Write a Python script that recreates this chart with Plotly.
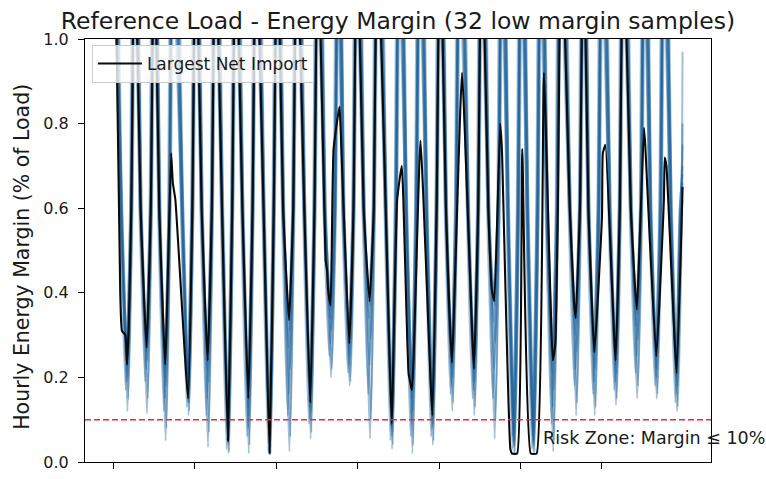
import plotly.graph_objects as go

# Hour index (0 = first midnight) of each day's lowest-margin hour
dip_hours = [16, 39, 61, 88, 111, 135, 159, 184, 207, 232, 256, 278, 302, 328,
             352, 376, 399, 425, 449, 472, 495, 518, 545, 567, 592, 617, 640, 664]
# Hours at which the sample band falls through / climbs back over 60 % margin
band_down_hours = [9, 32, 54, 81, 104, 128, 152, 177, 200, 225, 249, 271, 295, 321,
                   345, 369, 392, 418, 442, 465, 488, 511, 538, 560, 585, 610, 633, 657]
band_up_hours = [21, 44, 66, 93, 116, 140, 164, 189, 212, 237, 261, 283, 307, 333,
                 357, 381, 404, 430, 454, 477, 500, 523, 550, 572, 597, 622, 645, 669]
band_level = 0.6
# Overnight high-margin hours between consecutive dips
peak_hours = [25, 48, 70, 97, 120, 144, 168, 193, 216, 241, 265, 287, 311, 337,
              361, 385, 408, 434, 458, 481, 504, 527, 554, 576, 601, 626, 649]

# Daily minimum margin of each low-margin sample (fraction of load)
sample_dips = [
    [0.25, 0.29, 0.24, 0.17, 0.26, 0.07, 0.17, 0.06, 0.34, 0.16, 0.38, 0.30, 0.40, 0.11,
     0.19, 0.13, 0.25, 0.24, 0.40, 0.06, 0.06, 0.26, 0.35, 0.28, 0.26, 0.37, 0.27, 0.23],
    [0.23, 0.27, 0.22, 0.16, 0.24, 0.06, 0.15, 0.05, 0.31, 0.14, 0.36, 0.28, 0.37, 0.09,
     0.17, 0.11, 0.23, 0.22, 0.37, 0.05, 0.05, 0.24, 0.33, 0.26, 0.24, 0.35, 0.25, 0.21],
    [0.22, 0.26, 0.20, 0.15, 0.22, 0.05, 0.13, 0.04, 0.27, 0.13, 0.34, 0.27, 0.34, 0.08,
     0.15, 0.10, 0.22, 0.21, 0.33, 0.045, 0.045, 0.21, 0.30, 0.24, 0.23, 0.32, 0.24, 0.20],
    [0.20, 0.24, 0.18, 0.14, 0.19, 0.05, 0.11, 0.035, 0.22, 0.12, 0.31, 0.25, 0.29, 0.07,
     0.12, 0.09, 0.20, 0.19, 0.28, 0.04, 0.04, 0.17, 0.26, 0.22, 0.21, 0.29, 0.22, 0.18],
    [0.19, 0.22, 0.15, 0.14, 0.15, 0.04, 0.08, 0.03, 0.16, 0.10, 0.28, 0.23, 0.23, 0.06,
     0.09, 0.08, 0.18, 0.17, 0.22, 0.035, 0.035, 0.13, 0.22, 0.19, 0.19, 0.25, 0.20, 0.16],
    [0.17, 0.19, 0.12, 0.13, 0.11, 0.03, 0.06, 0.025, 0.11, 0.09, 0.25, 0.21, 0.16, 0.05,
     0.06, 0.06, 0.16, 0.15, 0.15, 0.03, 0.03, 0.09, 0.18, 0.16, 0.17, 0.21, 0.18, 0.14],
    [0.15, 0.15, 0.08, 0.12, 0.07, 0.025, 0.04, 0.02, 0.06, 0.07, 0.22, 0.19, 0.10, 0.04,
     0.04, 0.05, 0.14, 0.13, 0.10, 0.025, 0.025, 0.05, 0.14, 0.13, 0.15, 0.18, 0.16, 0.13],
    [0.12, 0.115, 0.05, 0.11, 0.035, 0.02, 0.02, 0.02, 0.025, 0.055, 0.20, 0.18, 0.055, 0.03,
     0.02, 0.04, 0.12, 0.11, 0.055, 0.02, 0.02, 0.025, 0.11, 0.11, 0.135, 0.15, 0.15, 0.12],
]
# Overnight margin level of each sample (off the top of the axis)
sample_peaks = [1.25, 1.6, 1.35, 2.0, 1.45, 1.8, 1.3, 1.7]
# Timing offset (hours) of each sample's daily cycle
sample_shifts = [-1.0, 0.5, -0.5, 1.0, 0.0, -1.5, 1.5, 0.5]
# Margin of each sample in the final hour
sample_ends = [0.70, 0.62, 0.75, 0.97, 0.60, 0.68, 0.80, 0.66]

# Sample with the largest net import
black_hours = [0, 8, 10, 14, 16, 18, 21, 25, 32, 39, 44, 48, 54, 61, 68, 70, 73, 88, 93,
               97, 104, 111, 116, 120, 128, 135, 140, 144, 152, 159, 164, 168, 177, 184,
               189, 193, 200, 207, 212, 216, 225, 232, 237, 241, 250, 252, 253, 256,
               259.5, 266.5, 268, 278, 283, 287, 295, 302, 307, 311, 321, 328, 334.5,
               340, 348, 352, 362, 376, 381, 385, 392, 399, 411, 425, 430, 434, 442, 446,
               449, 456, 458, 468, 470, 476, 482, 492, 499, 507.5, 518, 521, 524, 528,
               538, 543, 545, 550, 554, 560, 567, 576, 577, 580, 592, 597, 601, 610,
               617, 625.5, 627, 640, 649, 650, 652, 664, 671]
black_vals = [1.5, 0.40, 0.31, 0.30, 0.23, 0.32, 0.6, 1.3, 0.6, 0.27, 0.6, 1.3, 0.6,
              0.23, 0.73, 0.66, 0.62, 0.15, 0.6, 1.3, 0.6, 0.24, 0.6, 1.3, 0.6, 0.05,
              0.6, 1.3, 0.6, 0.15, 0.6, 1.3, 0.6, 0.02, 0.6, 1.3, 0.6, 0.335, 0.6, 1.3,
              0.6, 0.14, 0.6, 1.3, 0.48, 0.45, 0.41, 0.37, 0.74, 0.84, 0.78, 0.28, 0.6,
              1.3, 0.6, 0.38, 0.6, 1.3, 0.6, 0.09, 0.62, 0.70, 0.21, 0.17, 0.76, 0.11,
              0.6, 1.3, 0.6, 0.235, 0.92, 0.22, 0.6, 1.3, 0.6, 0.41, 0.38, 0.80, 0.74,
              0.03, 0.02, 0.02, 0.74, 0.02, 0.02, 0.92, 0.24, 0.28, 0.6, 1.3, 0.6, 0.38,
              0.34, 0.6, 1.3, 0.6, 0.26, 0.58, 0.73, 0.75, 0.24, 0.6, 1.3, 0.6, 0.36,
              0.79, 0.75, 0.25, 0.62, 0.72, 0.70, 0.21, 0.65]

risk_level = 0.10
x_ticks = [0, 96, 192, 288, 384, 480, 576]
y_ticks = [0.0, 0.2, 0.4, 0.6, 0.8, 1.0]
n_hours = 672

BLUE = "#1a609a"
FONT = "DejaVu Sans"
TEXT = "#1a1a1a"

fig = go.Figure()

for dips, peak, shift, end in zip(sample_dips, sample_peaks, sample_shifts, sample_ends):
    xs, ys = [0], [peak]
    for i, d in enumerate(dips):
        xs += [band_down_hours[i] + shift, dip_hours[i] + shift, band_up_hours[i] + shift]
        ys += [band_level, d, band_level]
        if i < len(peak_hours):
            xs.append(peak_hours[i] + shift)
            ys.append(peak)
    xs.append(n_hours - 1)
    ys.append(end)
    fig.add_trace(go.Scatter(x=xs, y=ys, mode="lines", showlegend=False,
                             hoverinfo="skip", opacity=0.4,
                             line=dict(color=BLUE, width=2.0, shape="spline",
                                       smoothing=0.5)))

fig.add_trace(go.Scatter(x=black_hours, y=black_vals, mode="lines",
                         name="Largest Net Import",
                         line=dict(color="#0a0a0a", width=2.1, shape="spline",
                                   smoothing=0.4)))

span = n_hours - 1
pad = 0.05 * span

fig.add_shape(type="line", xref="paper", x0=0, x1=1, yref="y",
              y0=risk_level, y1=risk_level, layer="above",
              line=dict(color="#ea2a40", width=1.5, dash="6px,3px"))

fig.add_annotation(x=504, y=risk_level, xref="x", yref="y", xanchor="left",
                   yanchor="top", yshift=-6, showarrow=False,
                   text="Risk Zone: Margin \u2264 10%",
                   font=dict(family=FONT, size=17.5, color=TEXT))

fig.add_annotation(x=-0.1, y=0.486, xref="paper", yref="paper", xanchor="center",
                   yanchor="middle", textangle=-90, showarrow=False,
                   text="Hourly Energy Margin (% of Load)",
                   font=dict(family=FONT, size=20.5, color=TEXT))

fig.update_layout(
    width=766, height=479,
    margin=dict(l=85, r=55, t=39, b=7),
    paper_bgcolor="white", plot_bgcolor="white",
    font=dict(family=FONT, color=TEXT),
    title=dict(text="Reference Load - Energy Margin (32 low margin samples)",
               x=0.5, xref="paper", xanchor="center",
               y=1 - 21 / 479, yref="container", yanchor="middle",
               font=dict(family=FONT, size=23.5, color=TEXT)),
    showlegend=True,
    legend=dict(x=0.011, y=0.986, xanchor="left", yanchor="top",
                bgcolor="rgba(255,255,255,0.8)", bordercolor="#cccccc",
                borderwidth=1, font=dict(family=FONT, size=17, color=TEXT),
                itemwidth=44),
    xaxis=dict(range=[-pad, span + pad], tickvals=x_ticks, showticklabels=False,
               ticks="outside", ticklen=6, tickwidth=1.2, tickcolor="black",
               showline=True, linecolor="black", linewidth=1.2, mirror=True,
               showgrid=False, zeroline=False),
    yaxis=dict(range=[0, 1], tickvals=y_ticks, tickformat=".1f",
               ticks="outside", ticklen=6, tickwidth=1.2, tickcolor="black",
               ticklabelstandoff=6,
               tickfont=dict(family=FONT, size=16, color=TEXT),
               showline=True, linecolor="black", linewidth=1.2, mirror=True,
               showgrid=False, zeroline=False),
)

fig.write_html("out.html")
